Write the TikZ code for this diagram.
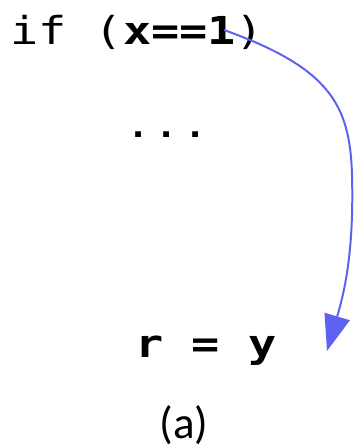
\documentclass[tikz,border=0pt]{standalone}
\usepackage{fontspec}
\setmonofont[FakeStretch=1.217]{DejaVu Sans Mono}
\newfontfamily\captionfont{Carlito}
\usepackage{tikz}
\usetikzlibrary{arrows.meta}
\usepackage{xcolor}

\definecolor{jumpblue}{HTML}{5E62F0}

\begin{document}
\begin{tikzpicture}[x=1pt, y=-1pt,
    code/.style={inner sep=0pt, anchor=base west, font=\fontsize{38.5}{38.5}\selectfont\ttfamily},
    jump/.style={jumpblue, line width=2pt, -{Triangle[length=36pt, width=26pt]}}]
    % --- canvas, in pixels of the reference ---
    \useasboundingbox (0,0) rectangle (354,448);

    % --- code lines ---
    \node[code] (cond) at (10,44) {if (\textbf{x==1})};
    \node[code] (dots) at (124.5,137) {...};
    \node[code] (assign) at (135,357) {\textbf{r = y}};

    % --- caption ---
    \node[inner sep=0pt, anchor=base, font=\fontsize{45}{45}\selectfont\captionfont] (cap) at (184,438) {(a)};

    % --- jump from the condition down to the assignment ---
    \coordinate (src) at (224,30);
    \coordinate (dst) at (327,351);
    \draw[jump] (src) .. controls (330,68) and (350,105) .. (352,175)
        .. controls (354,250) and (345,290) .. (dst);
\end{tikzpicture}
\end{document}
